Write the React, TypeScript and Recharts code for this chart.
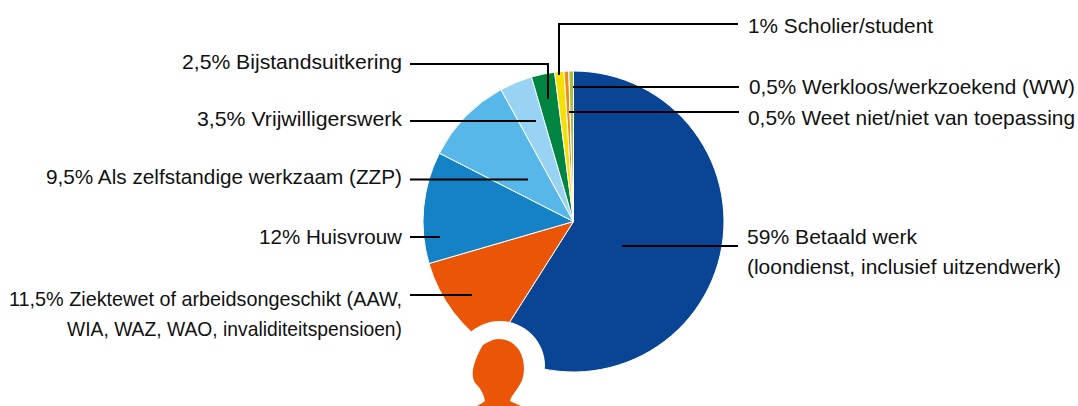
import { PieChart, Pie, Cell } from 'recharts';

const categories = [
  'Betaald werk',
  'Ziektewet of arbeidsongeschikt',
  'Huisvrouw',
  'Als zelfstandige werkzaam (ZZP)',
  'Vrijwilligerswerk',
  'Bijstandsuitkering',
  'Scholier/student',
  'Weet niet/niet van toepassing',
  'Werkloos/werkzoekend (WW)',
];
const values = [59, 11.5, 12, 9.5, 3.5, 2.5, 1, 0.5, 0.5];
const colors = ['#094495', '#EB5507', '#1482C5', '#56B7E8', '#99D3F3', '#008540', '#F5E000', '#F08A1D', '#A5C23A'];

const data = categories.map((name, i) => ({ name, value: values[i] }));

// annotation text; len is the width each line takes in the reference (its font is narrower than Arial)
const leftLabels = [
  { text: '2,5% Bijstandsuitkering', y: 69, len: 220 },
  { text: '3,5% Vrijwilligerswerk', y: 126, len: 205 },
  { text: '9,5% Als zelfstandige werkzaam (ZZP)', y: 184, len: 356 },
  { text: '12% Huisvrouw', y: 244, len: 143 },
  { text: '11,5% Ziektewet of arbeidsongeschikt (AAW,', y: 306, len: 393 },
  { text: 'WIA, WAZ, WAO, invaliditeitspensioen)', y: 336, len: 335 },
];
const rightLabels = [
  { text: '1% Scholier/student', y: 33, x: 748, len: 185 },
  { text: '0,5% Werkloos/werkzoekend (WW)', y: 94, x: 749, len: 326 },
  { text: '0,5% Weet niet/niet van toepassing', y: 125, x: 748, len: 327 },
  { text: '59% Betaald werk', y: 244, x: 747, len: 170 },
  { text: '(loondienst, inclusief uitzendwerk)', y: 274, x: 747, len: 314 },
];
const leaders = [
  'M738 24H559V75',
  'M410 64H548V99',
  'M410 121H536',
  'M410 179.5H528',
  'M410 237H440',
  'M410 295H472',
  'M573 87H739',
  'M569 112H739',
  'M622 246H738',
];
const headPath =
  'M498 339C508 339 514 343 519 350C524 358 525 368 523 377C521 385 515 391 511 398L510 401Q514 403 521 406H477Q483 403 485 401C483 392 480 388 476 384C472 380 472 372 474 365C476 358 479 351 483 345C488 342 493 339 498 339Z';

const textStyle = { fontFamily: '"Liberation Sans", sans-serif', fontSize: 21, fill: '#111' };

export default function App() {
  return (
    <div style={{ position: 'absolute', left: 0, top: 0, width: 1078, height: 406, background: '#fff' }}>
      <PieChart width={1078} height={406} margin={{ top: 0, right: 0, bottom: 0, left: 0 }}>
        <Pie
          data={data}
          dataKey="value"
          cx={573.5}
          cy={221.5}
          outerRadius={150.5}
          startAngle={90}
          endAngle={-270}
          stroke="#fff"
          strokeWidth={1}
          isAnimationActive={false}
        >
          {data.map((d, i) => (
            <Cell key={d.name} fill={colors[i]} />
          ))}
        </Pie>
      </PieChart>
      <svg width={1078} height={406} style={{ position: 'absolute', left: 0, top: 0, pointerEvents: 'none' }}>
        <circle cx={500} cy={366} r={45} fill="#fff" />
        <path d={headPath} fill="#EB5507" />
        {leaders.map((d) => (
          <path key={d} d={d} fill="none" stroke="#000" strokeWidth={2} />
        ))}
        {leftLabels.map((l) => (
          <text key={l.text} x={402} y={l.y} textAnchor="end" textLength={l.len} lengthAdjust="spacingAndGlyphs" style={textStyle}>
            {l.text}
          </text>
        ))}
        {rightLabels.map((l) => (
          <text key={l.text} x={l.x} y={l.y} textLength={l.len} lengthAdjust="spacingAndGlyphs" style={textStyle}>
            {l.text}
          </text>
        ))}
      </svg>
    </div>
  );
}
